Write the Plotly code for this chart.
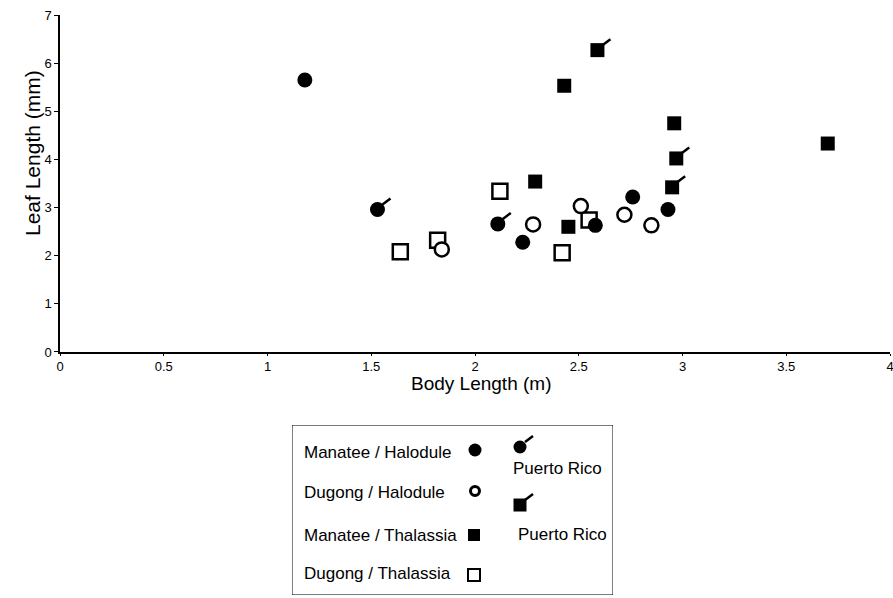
import plotly.graph_objects as go

# ---------------- data ----------------
mh_x = [1.18, 2.23, 2.58, 2.76, 2.93]          # Manatee / Halodule
mh_y = [5.65, 2.28, 2.63, 3.22, 2.96]
mh_pr_x = [1.53, 2.11]                          # Manatee / Halodule, Puerto Rico
mh_pr_y = [2.96, 2.66]
dh_x = [1.84, 2.28, 2.51, 2.72, 2.85]          # Dugong / Halodule
dh_y = [2.13, 2.65, 3.03, 2.85, 2.63]
mt_x = [2.43, 2.29, 2.45, 2.96, 3.70]          # Manatee / Thalassia
mt_y = [5.53, 3.54, 2.60, 4.75, 4.33]
mt_pr_x = [2.59, 2.97, 2.95]                    # Manatee / Thalassia, Puerto Rico
mt_pr_y = [6.27, 4.02, 3.42]
dt_x = [1.64, 1.82, 2.12, 2.42, 2.55]          # Dugong / Thalassia
dt_y = [2.08, 2.32, 3.34, 2.06, 2.74]

x_ticks = [0, 0.5, 1, 1.5, 2, 2.5, 3, 3.5, 4]
x_tick_labels = ["0", "0.5", "1", "1.5", "2", "2.5", "3", "3.5", "4"]
y_ticks = [0, 1, 2, 3, 4, 5, 6, 7]
y_tick_labels = ["0", "1", "2", "3", "4", "5", "6", "7"]

legend_labels = ["Manatee / Halodule", "Dugong / Halodule",
                 "Manatee / Thalassia", "Dugong / Thalassia"]
pr_label = "Puerto Rico"
x_title = "Body Length (m)"
y_title = "Leaf Length (mm)"

FONT = "Arial, Liberation Sans, Helvetica, sans-serif"
BLACK = "black"

fig = go.Figure()

def add_pts(xs, ys, symbol, size, filled, xa="x", ya="y", lw=2.5):
    fig.add_trace(go.Scatter(
        x=xs, y=ys, mode="markers", xaxis=xa, yaxis=ya, showlegend=False,
        cliponaxis=False,
        marker=dict(symbol=symbol, size=size,
                    color=BLACK if filled else "white",
                    line=dict(color=BLACK, width=0 if filled else lw))))

# main plot points (draw order for overlaps)
add_pts(dt_x, dt_y, "square", 15, False)
add_pts(mt_x, mt_y, "square", 14, True)
add_pts(mt_pr_x, mt_pr_y, "square", 14, True)
add_pts(dh_x, dh_y, "circle", 14, False)
add_pts(mh_x, mh_y, "circle", 15, True)
add_pts(mh_pr_x, mh_pr_y, "circle", 15, True)

shapes = []
def flag(x, y, xref="x", yref="y"):
    shapes.append(dict(type="line", xref=xref, yref=yref,
                       xsizemode="pixel", ysizemode="pixel",
                       xanchor=x, yanchor=y, x0=5, y0=5, x1=13, y1=11,
                       line=dict(color=BLACK, width=2.5)))

for x, y in zip(mh_pr_x, mh_pr_y):
    flag(x, y)
for x, y in zip(mt_pr_x, mt_pr_y):
    flag(x, y)

# ---------------- legend box (own hidden axes) ----------------
def leg_marker(x, y, symbol, size, filled, lw=2):
    fig.add_trace(go.Scatter(
        x=[x], y=[y], mode="markers", xaxis="x2", yaxis="y2",
        showlegend=False, hoverinfo="skip", cliponaxis=False,
        marker=dict(symbol=symbol, size=size,
                    color=BLACK if filled else "white",
                    line=dict(color=BLACK, width=0 if filled else lw))))

leg_marker(183, 25, "circle", 13, True)
leg_marker(183, 66, "circle", 9, False, 3)
leg_marker(182, 110, "square", 12, True)
leg_marker(182, 150, "square", 12, False, 2)
# Puerto Rico symbols
leg_marker(228, 22, "circle", 13, True)
leg_marker(228, 80, "square", 13, True)
flag(228, 22, "x2", "y2")
flag(228, 80, "x2", "y2")

shapes.append(dict(type="rect", xref="x2", yref="y2", x0=0, x1=321, y0=0, y1=170,
                   line=dict(color=BLACK, width=1), fillcolor="rgba(0,0,0,0)", layer="below"))

annotations = []
leg_text_y = [27, 67, 110, 148]
for lab, ty in zip(legend_labels, leg_text_y):
    annotations.append(dict(text=lab, xref="x2", yref="y2", x=10, y=ty,
                            xanchor="left", yanchor="middle", showarrow=False,
                            font=dict(family=FONT, size=17, color=BLACK)))
annotations.append(dict(text=pr_label, xref="x2", yref="y2", x=219, y=43,
                        xanchor="left", yanchor="middle", showarrow=False,
                        font=dict(family=FONT, size=17, color=BLACK)))
annotations.append(dict(text=pr_label, xref="x2", yref="y2", x=224, y=109,
                        xanchor="left", yanchor="middle", showarrow=False,
                        font=dict(family=FONT, size=17, color=BLACK)))

# axis titles
annotations.append(dict(text=x_title, xref="paper", yref="paper", x=0.507, y=0.368,
                        xanchor="center", yanchor="middle", showarrow=False,
                        font=dict(family=FONT, size=19, color=BLACK)))
annotations.append(dict(text=y_title, xref="paper", yref="paper", x=-0.0325, y=0.7633,
                        xanchor="center", yanchor="middle", showarrow=False, textangle=-90,
                        font=dict(family=FONT, size=21, color=BLACK)))

fig.update_layout(
    template="none",
    width=893, height=598,
    margin=dict(l=60, r=3, t=15, b=0, autoexpand=False),
    paper_bgcolor="white", plot_bgcolor="white",
    font=dict(family=FONT, color=BLACK),
    xaxis=dict(domain=[0, 1], range=[0, 4], anchor="y", automargin=False,
               tickmode="array", tickvals=x_ticks, ticktext=x_tick_labels,
               ticklabeloverflow="allow",
               showgrid=False, zeroline=False, showline=True,
               linecolor=BLACK, linewidth=1.5,
               ticks="outside", ticklen=2, tickwidth=1, tickcolor=BLACK,
               tickfont=dict(family=FONT, size=13, color=BLACK)),
    yaxis=dict(domain=[0.422, 1], range=[0, 7], anchor="x", automargin=False,
               tickmode="array", tickvals=y_ticks, ticktext=y_tick_labels,
               ticklabeloverflow="allow",
               showgrid=False, zeroline=False, showline=True,
               linecolor=BLACK, linewidth=1.5,
               ticks="outside", ticklen=4, tickwidth=1, tickcolor=BLACK,
               tickfont=dict(family=FONT, size=13, color=BLACK)),
    xaxis2=dict(domain=[0.27952, 0.66627], range=[0, 321], anchor="y2",
                visible=False, fixedrange=True, automargin=False),
    yaxis2=dict(domain=[0.00515, 0.2967], range=[170, 0], anchor="x2",
                visible=False, fixedrange=True, automargin=False),
    shapes=shapes,
    annotations=annotations,
)

fig.write_html("out.html",
               config={"displayModeBar": False},
               post_script="document.body.style.margin='0';document.body.style.overflow='hidden';")
